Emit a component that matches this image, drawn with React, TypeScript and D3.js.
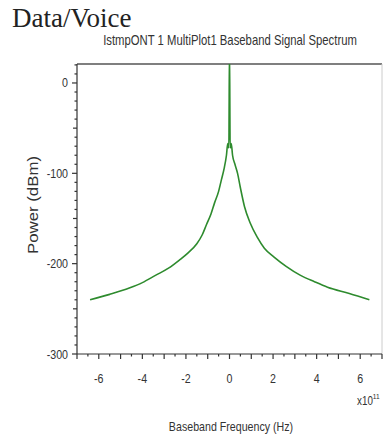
import React from "react";
import * as d3 from "d3";

const freq = [-6.4, -5.5, -4.6, -4.0, -3.4, -2.8, -2.3, -1.9, -1.5, -1.25, -1.06, -0.85, -0.69, -0.5, -0.37, -0.25, -0.14, -0.08, -0.03, 0, 0.03, 0.08, 0.14, 0.25, 0.37, 0.5, 0.69, 0.95, 1.28, 1.6, 2.06, 2.6, 3.26, 3.9, 4.5, 5.5, 6.42];
const power = [-240, -234, -227, -221, -213, -205, -196, -188, -178, -168, -157, -145, -133, -120, -107, -95, -80, -67, -72, 40, -72, -67, -80, -90, -100, -116, -137, -155, -171, -183, -193, -203, -213, -220, -226, -233, -240];
const xTickLabels = [-6, -4, -2, 0, 2, 4, 6];
const yTickLabels = [0, -100, -200, -300];

const W = 383, H = 438;
const L = 77, R = 382, T = 64, B = 354;
const SANS = "'Liberation Sans', Arial, sans-serif";
const SX = 0.82;

function NText({ x, y, size = 12, anchor = "start", rotate = 0, children }: any) {
  return (
    <text
      transform={`translate(${x},${y}) rotate(${rotate}) scale(${SX},1)`}
      textAnchor={anchor}
      fontFamily={SANS}
      fontSize={size}
      fill="#333"
    >
      {children}
    </text>
  );
}

export default function App() {
  const x = d3.scaleLinear().domain([-7, 7]).range([L, R]);
  const y = d3.scaleLinear().domain([-300, 21]).range([B, T]);
  const pts = freq.map((f, i) => [f, power[i]] as [number, number]);
  const line = d3.line<[number, number]>().x(d => x(d[0])).y(d => y(d[1])).curve(d3.curveMonotoneX);

  const xMinor = d3.range(-14, 15).map(v => v / 2);
  const yMinor = d3.range(-30, 3).map(v => v * 10);

  return (
    <svg width={W} height={H} style={{ position: "absolute", left: 0, top: 0, background: "#fff" }}>
      <defs>
        <clipPath id="plot"><rect x={L} y={T} width={R - L} height={B - T} /></clipPath>
      </defs>
      <text x={12} y={27} fontFamily="'Liberation Serif', 'Times New Roman', serif" fontSize={27} fill="#222">Data/Voice</text>
      <NText x={230} y={45} size={13.8} anchor="middle">IstmpONT 1 MultiPlot1 Baseband Signal Spectrum</NText>

      <line x1={L} x2={R} y1={T} y2={T} stroke="#555" strokeWidth={1.5} />
      <line x1={R} x2={R} y1={T} y2={B} stroke="#ccc" strokeWidth={1} />
      <line x1={L} x2={L} y1={T} y2={B} stroke="#333" strokeWidth={1.2} />
      <line x1={L} x2={R} y1={B} y2={B} stroke="#333" strokeWidth={1.2} />

      {yMinor.map(v => {
        const len = v % 100 === 0 ? 5 : v % 50 === 0 ? 4 : 2.5;
        return <line key={"ym" + v} x1={L - len} x2={L} y1={y(v)} y2={y(v)} stroke="#333" strokeWidth={1.2} />;
      })}
      {yTickLabels.map(v => (
        <NText key={"yl" + v} x={68} y={y(v) + 4.5} size={13} anchor="end">{v}</NText>
      ))}

      {xMinor.map(v => {
        const len = Number.isInteger(v) ? 5 : 2.5;
        return <line key={"xm" + v} x1={x(v)} x2={x(v)} y1={B} y2={B + len} stroke="#333" strokeWidth={1.2} />;
      })}
      {xTickLabels.map(v => (
        <NText key={"xl" + v} x={x(v)} y={383} size={13} anchor="middle">{v}</NText>
      ))}
      <text transform={`translate(357,405) scale(${SX},1)`} fontFamily={SANS} fontSize={12} fill="#333">x10<tspan dy={-6} fontSize={8}>11</tspan></text>

      <NText x={231} y={431} size={13} anchor="middle">Baseband Frequency (Hz)</NText>
      <text transform="translate(38,205) rotate(-90)" textAnchor="middle" fontFamily={SANS} fontSize={14} fill="#333" textLength={98} lengthAdjust="spacingAndGlyphs">Power (dBm)</text>

      <path d={line(pts) || ""} fill="none" stroke="#2e8b2e" strokeWidth={1.6} strokeLinejoin="round" clipPath="url(#plot)" />
    </svg>
  );
}
